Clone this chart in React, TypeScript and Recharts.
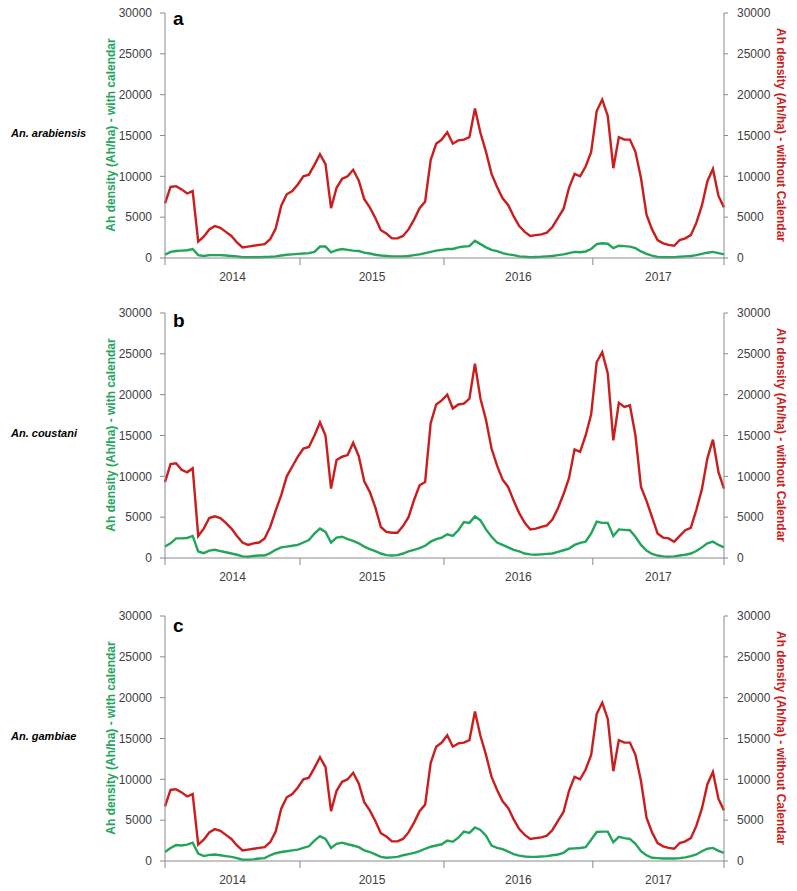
import { LineChart, Line, XAxis, YAxis } from "recharts";

// Time axis: one point per sampling step, grouped by year
const YEARS = ["2014", "2015", "2016", "2017"];
// step index where each year group starts / ends
const YEAR_EDGES = [0, 24.4, 50.4, 77.3, 101];
const Y_TICKS = [0, 5000, 10000, 15000, 20000, 25000, 30000];

// An. arabiensis
const withCalArabiensis = [
  400, 750, 850, 900, 950, 1100, 350, 250, 350, 350,
  350, 300, 250, 200, 100, 100, 100, 100, 120, 150,
  200, 300, 400, 450, 500, 550, 600, 750, 1400, 1400,
  700, 950, 1100, 1000, 900, 850, 650, 550, 400, 300,
  250, 200, 200, 200, 250, 350, 450, 600, 750, 900,
  1000, 1100, 1100, 1300, 1400, 1450, 2100, 1700, 1300, 1000,
  850, 600, 450, 350, 200, 150, 100, 120, 150, 200,
  250, 350, 450, 600, 750, 700, 800, 1100, 1700, 1800,
  1750, 1200, 1500, 1450, 1400, 1200, 800, 500, 300, 120,
  100, 100, 100, 150, 200, 250, 350, 500, 650, 750,
  600, 450,
];
const withoutCalArabiensis = [
  6700, 8700, 8800, 8400, 7900, 8200, 2000, 2600, 3500, 3900,
  3700, 3200, 2700, 1900, 1300, 1400, 1500, 1600, 1700, 2300,
  3600, 6400, 7800, 8200, 9000, 10000, 10200, 11400, 12700, 11500,
  6100, 8600, 9700, 10000, 10800, 9500, 7200, 6200, 4900, 3400,
  3000, 2400, 2400, 2700, 3500, 4700, 6100, 6900, 12000, 14000,
  14500, 15400, 14000, 14400, 14500, 14800, 18300, 15300, 13000, 10300,
  8700, 7300, 6500, 5100, 3900, 3200, 2700, 2800, 2900, 3100,
  3800, 4900, 6000, 8600, 10300, 10000, 11200, 13000, 18000, 19400,
  17400, 11000, 14800, 14500, 14500, 13000, 9800, 5300, 3500, 2200,
  1800, 1600, 1500, 2200, 2400, 2800, 4300, 6400, 9400, 10900,
  7600, 6200,
];

// An. coustani
const withCalCoustani = [
  1400, 1800, 2400, 2400, 2450, 2700, 800, 600, 900, 1000,
  850, 700, 550, 400, 200, 150, 250, 300, 300, 600,
  1000, 1300, 1400, 1500, 1600, 1900, 2200, 3000, 3600, 3200,
  1900, 2500, 2600, 2300, 2100, 1800, 1400, 1100, 850, 550,
  350, 300, 350, 550, 800, 1000, 1200, 1500, 2000, 2300,
  2500, 2900, 2700, 3400, 4400, 4300, 5100, 4600, 3500, 2600,
  1900, 1600, 1300, 1000, 800, 550, 450, 400, 450, 500,
  550, 750, 950, 1150, 1600, 1850, 2000, 3000, 4450, 4300,
  4300, 2700, 3500, 3450, 3400, 2600, 1600, 900, 500, 300,
  200, 150, 200, 300, 400, 550, 850, 1300, 1800, 2000,
  1600, 1300,
];
const withoutCalCoustani = [
  9300, 11500, 11600, 10800, 10500, 11000, 2700, 3600, 4900, 5100,
  4900, 4300, 3600, 2700, 1900, 1600, 1800, 1900, 2400, 3800,
  5800, 7700, 10000, 11200, 12400, 13400, 13600, 15000, 16600, 15000,
  8500, 12000, 12400, 12600, 14100, 12500, 9400, 8100, 6200, 3800,
  3200, 3100, 3100, 3900, 5000, 7100, 8900, 9300, 16500, 18800,
  19300, 20000, 18300, 18800, 18900, 19500, 23800, 19500, 16900, 13400,
  11300, 9600, 8700, 7000, 5500, 4300, 3500, 3600, 3800, 4000,
  4700, 6100, 7800, 9800, 13300, 13000, 15000, 17600, 24000, 25200,
  22600, 14400, 19000, 18500, 18700, 15000, 8700, 7000, 5000, 3000,
  2500, 2400, 2000, 2700, 3400, 3700, 5900, 8400, 12200, 14500,
  10500, 8500,
];

// An. gambiae
const withCalGambiae = [
  1100, 1600, 1950, 1900, 2000, 2250, 900, 600, 750, 800,
  700, 600, 500, 350, 150, 150, 200, 300, 350, 700,
  950, 1100, 1200, 1300, 1400, 1600, 1800, 2500, 3050, 2700,
  1600, 2100, 2250, 2050, 1900, 1700, 1300, 1100, 800, 500,
  400, 450, 500, 700, 850, 1000, 1200, 1500, 1750, 1900,
  2050, 2500, 2350, 2850, 3600, 3450, 4100, 3800, 3100, 1900,
  1600, 1450, 1150, 850, 650, 550, 500, 500, 550, 600,
  700, 800, 1000, 1500, 1550, 1600, 1700, 2600, 3550, 3600,
  3600, 2300, 2950, 2800, 2700, 2100, 1200, 700, 400, 350,
  300, 300, 300, 350, 450, 600, 800, 1200, 1500, 1600,
  1250, 1000,
];
const withoutCalGambiae = [
  6700, 8700, 8800, 8400, 7900, 8200, 2000, 2600, 3500, 3900,
  3700, 3200, 2700, 1900, 1300, 1400, 1500, 1600, 1700, 2300,
  3600, 6400, 7800, 8200, 9000, 10000, 10200, 11400, 12700, 11500,
  6100, 8600, 9700, 10000, 10800, 9500, 7200, 6200, 4900, 3400,
  3000, 2400, 2400, 2700, 3500, 4700, 6100, 6900, 12000, 14000,
  14500, 15400, 14000, 14400, 14500, 14800, 18300, 15300, 13000, 10300,
  8700, 7300, 6500, 5100, 3900, 3200, 2700, 2800, 2900, 3100,
  3800, 4900, 6000, 8600, 10300, 10000, 11200, 13000, 18000, 19400,
  17400, 11000, 14800, 14500, 14500, 13000, 9800, 5300, 3500, 2200,
  1800, 1600, 1500, 2200, 2400, 2800, 4300, 6400, 9400, 10900,
  7600, 6200,
];

const GREEN = "#22a55b";
const RED = "#cc1d1d";
const AXIS = "#8a8a8a";
const TICK_TEXT = "#404040";
const FONT = "'Liberation Sans', Arial, sans-serif";

const yearMids = YEARS.map((_, k) => (YEAR_EDGES[k] + YEAR_EDGES[k + 1]) / 2);

function buildRows(withCal: number[], withoutCal: number[]) {
  return withCal.map((v, i) => ({ step: i, withCal: v, withoutCal: withoutCal[i] }));
}

const PANELS = [
  { letter: "a", species: "An. arabiensis", rows: buildRows(withCalArabiensis, withoutCalArabiensis), plotTop: 13, letterBase: 25 },
  { letter: "b", species: "An. coustani", rows: buildRows(withCalCoustani, withoutCalCoustani), plotTop: 313, letterBase: 327 },
  { letter: "c", species: "An. gambiae", rows: buildRows(withCalGambiae, withoutCalGambiae), plotTop: 616, letterBase: 632 },
];

const PLOT_H = 245;
const TOP_PAD = 8;

// year boundaries get a short tick, group centres get the year label
function TimeTick(props: any) {
  const { x, y, payload } = props;
  const k = yearMids.indexOf(payload.value);
  if (k >= 0) {
    return (
      <text x={x} y={y + 23} textAnchor="middle" fill={TICK_TEXT} fontSize={12} fontFamily={FONT}>
        {YEARS[k]}
      </text>
    );
  }
  return <line x1={x} y1={y} x2={x} y2={y + 7} stroke={AXIS} strokeWidth={1} />;
}

function Panel({ rows, plotTop }: { rows: any[]; plotTop: number }) {
  const tickStyle = { fill: TICK_TEXT, fontSize: 12, fontFamily: FONT };
  return (
    <div style={{ position: "absolute", left: 0, top: plotTop - TOP_PAD }}>
      <LineChart
        width={797}
        height={TOP_PAD + PLOT_H + 32}
        data={rows}
        margin={{ top: TOP_PAD, right: 13, bottom: 2, left: 105 }}
      >
        <XAxis
          dataKey="step"
          type="number"
          domain={[0, 101]}
          ticks={[...YEAR_EDGES, ...yearMids]}
          interval={0}
          tickLine={false}
          tickSize={0}
          tickMargin={0}
          tick={TimeTick}
          axisLine={{ stroke: AXIS }}
          height={30}
        />
        <YAxis
          yAxisId="left"
          domain={[0, 30000]}
          ticks={Y_TICKS}
          interval={0}
          width={60}
          tickSize={5}
          tickMargin={8}
          axisLine={{ stroke: AXIS }}
          tickLine={{ stroke: AXIS }}
          tick={tickStyle}
        />
        <YAxis
          yAxisId="right"
          orientation="right"
          domain={[0, 30000]}
          ticks={Y_TICKS}
          interval={0}
          width={60}
          tickSize={4}
          tickMargin={9}
          axisLine={{ stroke: AXIS }}
          tickLine={{ stroke: AXIS }}
          tick={tickStyle}
        />
        <Line
          yAxisId="left"
          type="linear"
          dataKey="withCal"
          stroke={GREEN}
          strokeWidth={2.4}
          dot={false}
          isAnimationActive={false}
        />
        <Line
          yAxisId="right"
          type="linear"
          dataKey="withoutCal"
          stroke={RED}
          strokeWidth={2.4}
          dot={false}
          isAnimationActive={false}
        />
      </LineChart>
    </div>
  );
}

export default function App() {
  return (
    <div
      style={{
        position: "absolute",
        left: 0,
        top: 0,
        width: 797,
        height: 891,
        overflow: "hidden",
        background: "#fff",
      }}
    >
      {PANELS.map((p) => (
        <Panel key={p.letter} rows={p.rows} plotTop={p.plotTop} />
      ))}
      <svg width={797} height={891} style={{ position: "absolute", left: 0, top: 0, pointerEvents: "none" }}>
        {PANELS.map((p) => {
          const cy = p.plotTop + 122;
          return (
            <g key={p.letter} fontFamily={FONT}>
              <text x={11} y={p.plotTop + 124} fontSize={11} fontWeight="bold" fontStyle="italic" fill="#000">
                {p.species}
              </text>
              <text x={173} y={p.letterBase} fontSize={19} fontWeight="bold" fill="#000">
                {p.letter}
              </text>
              <text
                transform={`translate(111, ${cy}) rotate(-90)`}
                textAnchor="middle"
                dy="0.35em"
                fontSize={12}
                fontWeight="bold"
                fill={GREEN}
              >
                Ah density (Ah/ha) - with calendar
              </text>
              <text
                transform={`translate(781, ${cy}) rotate(90)`}
                textAnchor="middle"
                dy="0.35em"
                fontSize={12}
                fontWeight="bold"
                fill={RED}
              >
                Ah density (Ah/ha) - without Calendar
              </text>
            </g>
          );
        })}
      </svg>
    </div>
  );
}
